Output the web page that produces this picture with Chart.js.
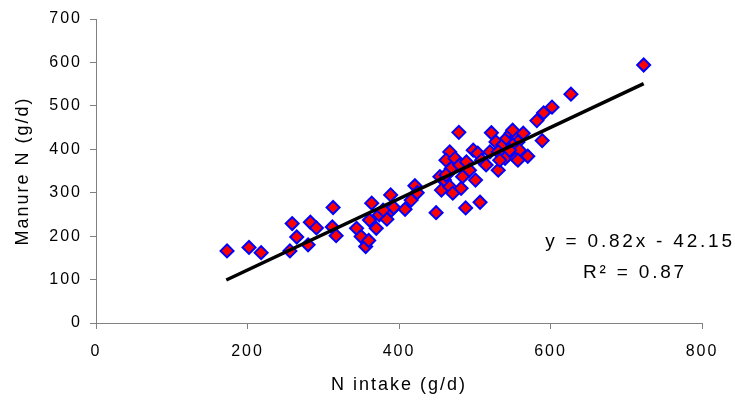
<!DOCTYPE html>
<html>
<head>
<meta charset="utf-8">
<script src="https://cdn.jsdelivr.net/npm/chart.js@4.4.0/dist/chart.umd.min.js"></script>
<style>
html, body { margin: 0; padding: 0; background: #fff; }
</style>
</head>
<body>
<canvas id="myChart" width="735" height="400"></canvas>
<script>
// N intake (g/d) vs manure N (g/d)
const nIntake = [173, 202, 218, 259, 265, 256, 280, 283, 291, 313, 312, 317,
    344, 350, 356, 360, 364, 361, 370, 374, 384, 389, 390, 393, 408, 416, 421, 424,
    449, 454, 456, 460, 465, 479, 522, 467, 462, 474, 469, 480, 489, 498, 504, 509,
    462, 467, 471, 482, 484, 528, 537, 542, 548, 555, 520, 531, 531, 540, 555, 488,
    507, 627, 602, 591, 582, 589, 550, 564, 557, 550, 559, 570, 557, 723, 515, 493,
    501, 546, 533, 379];
const manureN = [166, 174, 162, 229, 198, 166, 180, 232, 219, 266, 221, 201,
    218, 199, 176, 190, 276, 237, 218, 249, 239, 295, 260, 266, 262, 283, 316, 300,
    254, 337, 306, 329, 345, 439, 438, 394, 375, 379, 356, 364, 371, 398, 391, 375,
    341, 314, 299, 310, 337, 417, 410, 425, 437, 429, 394, 394, 352, 379, 379, 265,
    278, 527, 497, 484, 466, 420, 444, 437, 417, 410, 398, 384, 375, 594, 364, 352,
    329, 398, 375, 260];

// trend line end points
const trendX = [172, 723];
const trendY = [99, 551];

const xTickValues = [0, 200, 400, 600, 800];
const yTickValues = [0, 100, 200, 300, 400, 500, 600, 700];

const equationText = 'y = 0.82x - 42.15';
const r2Text = 'R\u00B2 = 0.87';

const fontFamily = '"Liberation Sans", Arial, sans-serif';

const points = nIntake.map((v, i) => ({x: v, y: manureN[i]}));
const trend = trendX.map((v, i) => ({x: v, y: trendY[i]}));

const textSpacing = {
    id: 'textSpacing',
    beforeLayout(chart) {
        chart.ctx.letterSpacing = '2px';
    }
};

const equationLabel = {
    id: 'equationLabel',
    afterDraw(chart) {
        const c = chart.ctx;
        c.save();
        c.letterSpacing = '2.8px';
        c.fillStyle = '#000';
        c.font = '19px ' + fontFamily;
        c.textAlign = 'center';
        c.textBaseline = 'middle';
        c.fillText(equationText, 640, 242);
        c.fillText(r2Text, 635, 273);
        c.restore();
    }
};

const ctx = document.getElementById('myChart');

new Chart(ctx, {
    type: 'scatter',
    data: {
        datasets: [{
                type: 'line',
                label: 'Linear',
                data: trend,
                borderColor: '#000',
                borderWidth: 3.5,
                pointRadius: 0,
                fill: false,
                order: 0
            }, {
                label: 'Manure N',
                data: points,
                pointStyle: 'rectRot',
                pointRadius: 6.5,
                pointBorderWidth: 2,
                pointBackgroundColor: '#ff0000',
                pointBorderColor: '#0000ff',
                order: 1
            }]
    },
    options: {
        responsive: false,
        animation: false,
        layout: {
            padding: {left: 0, right: 33, top: 19, bottom: 0}
        },
        plugins: {
            legend: {display: false},
            tooltip: {enabled: false}
        },
        scales: {
            x: {
                type: 'linear',
                min: 0,
                max: 800,
                afterBuildTicks: (s) => { s.ticks = xTickValues.map(v => ({value: v})); },
                afterFit: (s) => { s.height = 77; },
                grid: {display: true, drawOnChartArea: false, drawTicks: true, tickLength: 6, color: '#808080'},
                border: {color: '#808080', width: 1},
                ticks: {color: '#000', padding: 13, maxRotation: 0, font: {family: fontFamily, size: 16}},
                title: {display: true, text: 'N intake (g/d)', color: '#000', padding: {top: 6}, font: {family: fontFamily, size: 18}}
            },
            y: {
                type: 'linear',
                min: 0,
                max: 700,
                afterBuildTicks: (s) => { s.ticks = yTickValues.map(v => ({value: v})); },
                afterFit: (s) => { s.width = 96; },
                grid: {display: true, drawOnChartArea: false, drawTicks: true, tickLength: 6, color: '#808080'},
                border: {color: '#808080', width: 1},
                ticks: {color: '#000', padding: 8, font: {family: fontFamily, size: 16}},
                title: {display: true, text: 'Manure N (g/d)', color: '#000', padding: {top: 12, bottom: 0}, font: {family: fontFamily, size: 18}}
            }
        }
    },
    plugins: [textSpacing, equationLabel]
});
</script>
</body>
</html>
